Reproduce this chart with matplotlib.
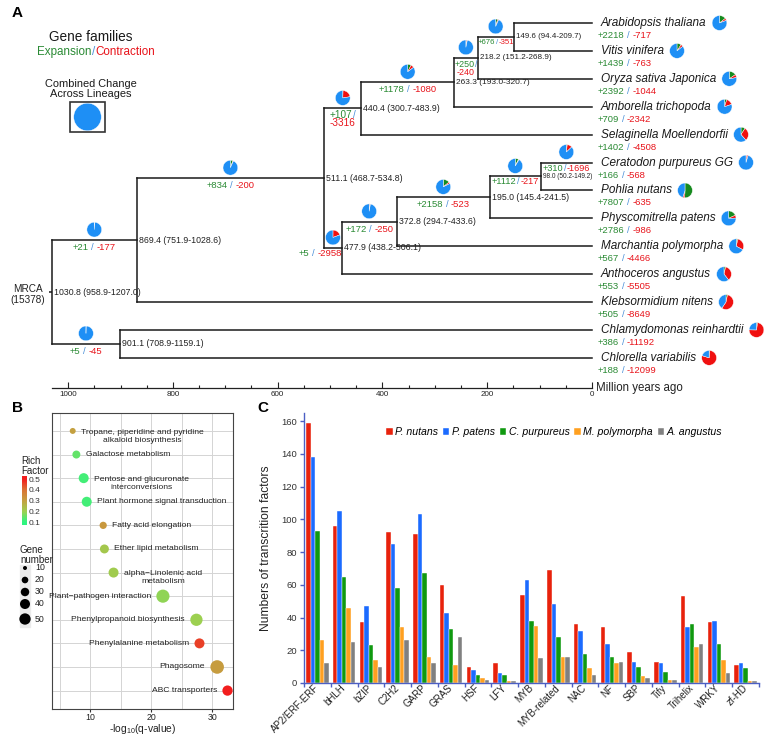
import numpy as np
import matplotlib
matplotlib.use("Agg")
import matplotlib.pyplot as plt
from matplotlib.colors import LinearSegmentedColormap, Normalize
from matplotlib.cm import ScalarMappable
from matplotlib.patches import Rectangle

plt.rcParams['font.family'] = ['Liberation Sans', 'DejaVu Sans']
plt.rcParams['mathtext.fontset'] = 'custom'
plt.rcParams['mathtext.rm'] = 'Liberation Sans'
plt.rcParams['mathtext.it'] = 'Liberation Sans:italic'

W, H = 767, 737

# ---------------- panel A : gene family expansion / contraction ----------------
species = ['Arabidopsis thaliana', 'Vitis vinifera', 'Oryza sativa Japonica',
           'Amborella trichopoda', 'Selaginella Moellendorfii', 'Ceratodon purpureus GG',
           'Pohlia nutans', 'Physcomitrella patens', 'Marchantia polymorpha',
           'Anthoceros angustus', 'Klebsormidium nitens', 'Chlamydomonas reinhardtii',
           'Chlorella variabilis']
species_gain = [2218, 1439, 2392, 709, 1402, 166, 7807, 2786, 567, 553, 505, 386, 188]
species_loss = [717, 763, 1044, 2342, 4508, 568, 635, 986, 4466, 5505, 8649, 11192, 12099]

# internal node -> (age Mya, interval, children)
nodes = {
    'MRCA': (1030.8, '958.9-1207.0', ['n869', 'n901']),
    'n869': (869.4, '751.9-1028.6', ['n511', 'Klebsormidium nitens']),
    'n901': (901.1, '708.9-1159.1', ['Chlamydomonas reinhardtii', 'Chlorella variabilis']),
    'n511': (511.1, '468.7-534.8', ['n440', 'n477']),
    'n440': (440.4, '300.7-483.9', ['n263', 'Selaginella Moellendorfii']),
    'n263': (263.3, '193.0-320.7', ['n218', 'Amborella trichopoda']),
    'n218': (218.2, '151.2-268.9', ['n149', 'Oryza sativa Japonica']),
    'n149': (149.6, '94.4-209.7', ['Arabidopsis thaliana', 'Vitis vinifera']),
    'n477': (477.9, '438.2-506.1', ['n372', 'Anthoceros angustus']),
    'n372': (372.8, '294.7-433.6', ['n195', 'Marchantia polymorpha']),
    'n195': (195.0, '145.4-241.5', ['n98', 'Physcomitrella patens']),
    'n98': (98.0, '50.2-149.2', ['Ceratodon purpureus GG', 'Pohlia nutans']),
}
mrca_families = 15378

# changes on branches, keyed by the node the branch leads to
branch_gain = {'n869': 21, 'n901': 5, 'n511': 834, 'n440': 107, 'n263': 1178,
               'n218': 250, 'n149': 676, 'n477': 5, 'n372': 172, 'n195': 2158,
               'n98': 1112, 'Ceratodon purpureus GG': 310}
branch_loss = {'n869': 177, 'n901': 45, 'n511': 200, 'n440': 3316, 'n263': 1080,
               'n218': 240, 'n149': 351, 'n477': 2958, 'n372': 250, 'n195': 523,
               'n98': 217, 'Ceratodon purpureus GG': 1696}

# ---------------- panel B : KEGG enrichment ----------------
pathways = ['Tropane, piperidine and pyridine\nalkaloid biosynthesis', 'Galactose metabolism',
            'Pentose and glucuronate\ninterconversions', 'Plant hormone signal transduction',
            'Fatty acid elongation', 'Ether lipid metabolism',
            'alpha\u2212Linolenic acid\nmetabolism', 'Plant\u2212pathogen interaction',
            'Phenylpropanoid biosynthesis', 'Phenylalanine metabolism', 'Phagosome',
            'ABC transporters']
q_value = [7.1, 7.7, 8.9, 9.4, 12.1, 12.3, 13.8, 21.9, 27.4, 27.9, 30.8, 32.5]
rich_factor = [0.30, 0.15, 0.12, 0.12, 0.32, 0.22, 0.21, 0.19, 0.20, 0.46, 0.31, 0.50]
gene_number = [17, 27, 40, 40, 23, 33, 40, 66, 58, 40, 70, 42]
legend_numbers = [10, 20, 30, 40, 50]

# ---------------- panel C : transcription factors ----------------
tf_families = ['AP2/ERF-ERF', 'bHLH', 'bZIP', 'C2H2', 'GARP', 'GRAS', 'HSF', 'LFY', 'MYB',
               'MYB-related', 'NAC', 'NF', 'SBP', 'Tify', 'Trihelix', 'WRKY', 'zf-HD']
tf_species = ['P. nutans', 'P. patens', 'C. purpureus', 'M. polymorpha', 'A. angustus']
p_nutans = [159, 96, 37, 92, 91, 60, 10, 12, 54, 69, 36, 34, 19, 13, 53, 37, 11]
p_patens = [138, 105, 47, 85, 103, 43, 8, 6, 63, 48, 32, 24, 13, 12, 34, 38, 12]
c_purpureus = [93, 65, 23, 58, 67, 33, 5, 5, 38, 28, 18, 16, 10, 7, 36, 24, 9]
m_polymorpha = [26, 46, 14, 34, 16, 11, 3, 1, 35, 16, 9, 12, 4, 2, 22, 14, 1]
a_angustus = [12, 25, 10, 26, 12, 28, 2, 1, 15, 16, 5, 13, 3, 2, 24, 6, 1]

PIE_BLUE, PIE_GREEN, PIE_RED = '#1E8FF5', '#168A1E', '#F01010'
TXT_GREEN, TXT_RED, TXT_SLASH = '#2A8A34', '#E8141B', '#4A90D9'
LINE = '#1a1a1a'

fig = plt.figure(figsize=(W / 100, H / 100), dpi=100)
renderer = fig.canvas.get_renderer()


def fig_box(left, top, right, bottom):
    return [left / W, 1 - bottom / H, (right - left) / W, (bottom - top) / H]


# overlay in pixel units (origin bottom-left) for pies and composite labels
axP = fig.add_axes([0, 0, 1, 1], zorder=10)
axP.set_xlim(0, W)
axP.set_ylim(0, H)
axP.axis('off')


def colored_text(x, y, parts, ha='left', gap=2.5, size=6.8):
    texts = [axP.text(0, y, s, color=c, fontsize=size, va='center', ha='left')
             for s, c in parts]
    widths = [t.get_window_extent(renderer).width for t in texts]
    total = sum(widths) + gap * (len(parts) - 1)
    start = x - {'left': 0, 'center': total / 2, 'right': total}[ha]
    for t, w in zip(texts, widths):
        t.set_x(start)
        start += w + gap


def draw_pie(cx, cy, r, gain, loss):
    axP.pie([gain, loss, mrca_families - gain - loss],
            colors=[PIE_GREEN, PIE_RED, PIE_BLUE], startangle=90, counterclock=False,
            center=(cx, cy), radius=r, frame=True,
            wedgeprops=dict(edgecolor='white', linewidth=0.3))


def change_parts(g, l):
    return [('+%d' % g, TXT_GREEN), ('/', TXT_SLASH), ('-%d' % l, TXT_RED)]


# ---- tree ----
axA = fig.add_axes(fig_box(52, 0, 592, 388))
axA.set_xlim(nodes['MRCA'][0], 0)
axA.set_ylim(13.08, -0.824)

pos_y = {name: float(i) for i, name in enumerate(species)}
age = {name: 0.0 for name in species}
parent = {}


def place(n):
    if n in pos_y:
        return pos_y[n]
    a, ci, ch = nodes[n]
    ys = [place(c) for c in ch]
    for c in ch:
        parent[c] = n
    pos_y[n] = sum(ys) / len(ys)
    age[n] = a
    return pos_y[n]


place('MRCA')

for n, (a, ci, ch) in nodes.items():
    ys = [pos_y[c] for c in ch]
    v = axA.vlines(a, min(ys), max(ys), color=LINE, lw=1.1, clip_on=False)
    v.set_capstyle('projecting')
    for c in ch:
        hl = axA.hlines(pos_y[c], a, age[c], color=LINE, lw=1.1, clip_on=False)
        hl.set_capstyle('projecting')
# root stub
axA.hlines(pos_y['MRCA'], age['MRCA'], age['MRCA'] + 6, color=LINE, lw=1.1, clip_on=False)

node_label_size = {'n149': 5.7, 'n98': 4.7, 'n218': 5.9, 'n263': 6.0}
for n, (a, ci, ch) in nodes.items():
    axA.annotate('%.1f (%s)' % (a, ci), xy=(a, pos_y[n]), xytext=(1.5, 0),
                 textcoords='offset points', va='center', ha='left',
                 fontsize=node_label_size.get(n, 6.3), color='#222222')
axA.annotate('MRCA\n(%d)' % mrca_families, xy=(age['MRCA'], pos_y['MRCA']), xytext=(-5, -2),
             textcoords='offset points', va='center', ha='right', multialignment='center',
             fontsize=7.2, color='#222222', linespacing=1.15)

for s in ['top', 'right', 'left']:
    axA.spines[s].set_visible(False)
axA.spines['bottom'].set_color('#222222')
axA.spines['bottom'].set_linewidth(0.9)
axA.set_yticks([])
axA.set_xticks(np.arange(0, 1001, 200))
axA.set_xticks(np.arange(0, 1001, 50), minor=True)
axA.tick_params(axis='x', which='both', direction='in', color='#222222', width=0.8,
                labelsize=5.8, pad=2, labelcolor='#222222')
axA.tick_params(axis='x', which='major', length=4)
axA.tick_params(axis='x', which='minor', length=2.5)
axA.annotate('Million years ago', xy=(1, 0), xycoords='axes fraction', xytext=(3, 0),
             textcoords='offset points', ha='left', va='center', fontsize=8.3, color='#222222')
axA.patch.set_visible(False)

# leaf labels and pies
for i, sp in enumerate(species):
    x0, y0 = axA.transData.transform((0, i))
    name = axP.text(x0 + 9, y0, sp, style='italic', fontsize=8.5, va='center', ha='left',
                    color='#1a1a1a')
    bb = name.get_window_extent(renderer)
    draw_pie(bb.x1 + 13, y0, 7.4, species_gain[i], species_loss[i])
    colored_text(x0 + 6, y0 - 12.5, change_parts(species_gain[i], species_loss[i]))

# branch pies and labels
branch_label_style = {'n440': ('stack', 7.2), 'n218': ('stack', 6.4),
                      'n149': ('tight', 5.6), 'n98': ('tight', 6.6),
                      'Ceratodon purpureus GG': ('tight', 6.6), 'n477': ('right', 6.8)}
for child, g in branch_gain.items():
    l = branch_loss[child]
    xa, ya = axA.transData.transform((age[parent[child]], pos_y[child]))
    xb, _ = axA.transData.transform((age[child], pos_y[child]))
    mid = (xa + xb) / 2
    draw_pie(mid, ya + 10.5, 7.4, g, l)
    style, size = branch_label_style.get(child, ('normal', 6.8))
    if style == 'normal':
        colored_text(mid, ya - 7.5, change_parts(g, l), ha='center', size=size)
    elif style == 'tight':
        colored_text(mid, ya - 5.5, change_parts(g, l), ha='center', gap=0.6, size=size)
    elif style == 'right':
        colored_text(xb, ya - 5.5, change_parts(g, l), ha='right', size=size)
    else:
        colored_text(mid, ya - 6.5, change_parts(g, l)[:2], ha='center', gap=0.6, size=size)
        colored_text(mid, ya - 15, change_parts(g, l)[2:], ha='center', size=size)

# header / legend of panel A
fig.text(12 / W, 1 - 13 / H, 'A', fontsize=11, fontweight='bold', va='center', ha='left')
axP.text(91, H - 37, 'Gene families', fontsize=9.8, ha='center', va='center', color='#1a1a1a')
colored_text(96, H - 52, [('Expansion', TXT_GREEN), ('/', TXT_SLASH), ('Contraction', TXT_RED)],
             ha='center', gap=0, size=8.4)
axP.text(91, H - 88.5, 'Combined Change\nAcross Lineages', fontsize=7.9, ha='center',
         va='center', color='#1a1a1a', linespacing=1.0)
axP.add_patch(Rectangle((70, H - 132), 35, 30, fill=False, edgecolor='#333333', lw=1.2))
draw_pie(87.5, H - 117, 13.8, 0, 0)

# ---- panel B ----
axB = fig.add_axes(fig_box(52, 413, 233, 709))
cmap = LinearSegmentedColormap.from_list(
    'rich', [(0.0, '#2EF580'), (0.25, '#9CD050'), (0.5, '#C4A040'), (0.75, '#DA7535'),
             (1.0, '#F21E1E')])
norm = Normalize(0.1, 0.5)
rows = np.arange(len(pathways))


def bubble_size(n):
    return 1.45 * np.asarray(n, dtype=float) - 6.2


sizes = bubble_size(gene_number)
axB.scatter(q_value, rows, s=sizes, c=rich_factor, cmap=cmap, norm=norm, zorder=3,
            edgecolors='none')
for k, (label, q, s) in enumerate(zip(pathways, q_value, sizes)):
    off = np.sqrt(s) / 2 + 4
    nl = label.count('\n')
    right_side = q < 20
    axB.annotate(label, xy=(q, k), xytext=(off if right_side else -off, -3.8 * nl),
                 textcoords='offset points', ha='left' if right_side else 'right',
                 va='center', multialignment='center', fontsize=6.1, color='#222222',
                 linespacing=1.25, zorder=4)
axB.set_xlim(3.7, 33.4)
axB.set_ylim(11.78, -0.76)
axB.set_xticks([10, 20, 30])
axB.set_xticks([5, 15, 25], minor=True)
axB.set_yticks(rows)
axB.set_yticklabels([])
axB.grid(True, which='both', color='#d4d4d4', lw=0.7)
axB.set_axisbelow(True)
axB.tick_params(axis='y', length=0)
axB.tick_params(axis='x', which='major', length=1.8, color='#333333', labelsize=6.3,
                pad=0.8, labelcolor='#222222')
axB.tick_params(axis='x', which='minor', length=0)
for s in axB.spines.values():
    s.set_color('#444444')
    s.set_linewidth(0.8)
axB.set_xlabel('-log$_{10}$(q-value)', fontsize=7.4, labelpad=0, color='#222222')
fig.text(12 / W, 1 - 408 / H, 'B', fontsize=11, fontweight='bold', va='center', ha='left')

# rich factor colour bar
axP.text(21, H - 466, 'Rich\nFactor', fontsize=7, ha='left', va='center', color='#222222',
         linespacing=0.95)
cax = fig.add_axes(fig_box(22, 476, 27, 525))
cb_norm = Normalize(0.075, 0.53)
cb = fig.colorbar(ScalarMappable(norm=cb_norm, cmap=LinearSegmentedColormap.from_list(
    'rich_cb', [cmap(norm(v)) for v in np.linspace(0.075, 0.53, 50)])), cax=cax,
    ticks=[0.1, 0.2, 0.3, 0.4, 0.5])
cb.outline.set_visible(False)
cax.tick_params(length=0, labelsize=6, pad=1.5, colors='#333333')

# gene number legend
axP.text(20, H - 555, 'Gene\nnumber', fontsize=7, ha='left', va='center', color='#222222',
         linespacing=0.95)
axP.add_patch(Rectangle((20, H - 627), 10, 62, color='#ebebeb', zorder=1))
leg_y = H - np.array([568, 580, 592, 604, 619])
axP.scatter([25] * len(legend_numbers), leg_y, s=bubble_size(legend_numbers), color='black',
            zorder=3, edgecolors='none')
for n, yy in zip(legend_numbers, leg_y):
    axP.text(35, yy, str(n), fontsize=6.3, ha='left', va='center', color='#222222')

# ---- panel C ----
axC = fig.add_axes(fig_box(304, 413, 759, 683))
bar_colors = ['#E8220C', '#1B6BFF', '#109910', '#FFA020', '#808080']
series = [p_nutans, p_patens, c_purpureus, m_polymorpha, a_angustus]
xs = np.arange(len(tf_families))
bw = 0.168
for k, (vals, col, lab) in enumerate(zip(series, bar_colors, tf_species)):
    axC.bar(xs + (k - 2) * bw, vals, width=bw, color=col, edgecolor='white', linewidth=0.3,
            label=lab)
axC.set_xlim(-0.5, len(tf_families) - 0.5)
axC.set_ylim(0, 165)
axC.set_yticks(np.arange(0, 161, 20))
axC.set_xticks(xs)
axC.set_xticklabels(tf_families, rotation=45, ha='right', va='center', rotation_mode='anchor',
                    fontsize=7.0, color='#222222')
axC.set_xticks(np.arange(-0.5, len(tf_families), 1), minor=True)
axis_blue = '#4C5FC4'
for s in ['top', 'right']:
    axC.spines[s].set_visible(False)
for s in ['left', 'bottom']:
    axC.spines[s].set_color(axis_blue)
    axC.spines[s].set_linewidth(1.0)
axC.tick_params(axis='x', which='major', length=0, pad=2.5)
axC.tick_params(axis='x', which='minor', length=3, color=axis_blue, width=1)
axC.tick_params(axis='y', length=3, color=axis_blue, width=1, labelsize=6.8,
                labelcolor='#333333', pad=2)
axC.set_ylabel('Numbers of transcrition factors', fontsize=8.7, color='#222222')
axC.yaxis.set_label_coords(-0.07, 0.5)
axC.legend(loc='center', bbox_to_anchor=(0.55, 0.93), ncol=5, frameon=False,
           prop={'style': 'italic', 'size': 7.6}, handlelength=0.6, handleheight=0.6,
           handletextpad=0.25, columnspacing=0.45, borderaxespad=0)
fig.text(257 / W, 1 - 408 / H, 'C', fontsize=11, fontweight='bold', va='center', ha='left')

axP.set_xlim(0, W)
axP.set_ylim(0, H)
axP.set_aspect('auto')

fig.savefig('out.png', dpi=100, facecolor='white')
